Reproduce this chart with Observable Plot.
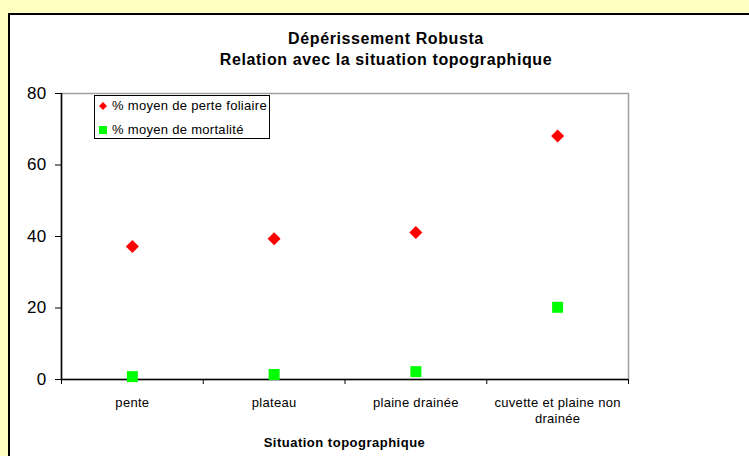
<!DOCTYPE html>
<html>
<head>
<meta charset="utf-8">
<script src="https://cdn.jsdelivr.net/npm/d3@7"></script>
<script src="https://cdn.jsdelivr.net/npm/@observablehq/plot@0.6"></script>
<style>
  html, body { margin: 0; padding: 0; width: 749px; height: 456px; overflow: hidden; background: #FFFFC0; font-family: "Liberation Sans", Arial, sans-serif; color: #000; }
  #box { position: absolute; left: 8px; top: 13px; width: 760px; height: 460px; background: #fff; border: 2px solid #000; box-sizing: border-box; }
  #chart { position: absolute; left: 0; top: 0; }
  .t { position: absolute; white-space: nowrap; text-align: center; }
  #title1, #title2 { left: 0; width: 772px; font-weight: bold; font-size: 16px; line-height: 16px; letter-spacing: 0.6px; }
  #title1 { top: 30.5px; }
  #title2 { top: 51.5px; }
  #xtitle { left: 0; width: 689px; top: 436px; font-weight: bold; font-size: 13px; line-height: 13px; letter-spacing: 0.5px; }
  #legend { position: absolute; left: 94px; top: 95px; width: 176px; height: 44px; box-sizing: border-box; border: 1px solid #000; background: #fff; }
  .lrow { position: absolute; left: 0; height: 16px; font-size: 13px; line-height: 16px; letter-spacing: 0.3px; white-space: nowrap; }
  .lrow svg { position: absolute; left: 3px; top: 3px; }
  .lrow span { position: absolute; left: 17px; top: 0; }
</style>
</head>
<body>
<div id="box"></div>
<div id="chart"></div>
<div id="title1" class="t"></div>
<div id="title2" class="t"></div>
<div id="xtitle" class="t"></div>
<div id="legend"></div>
<script>
const categories = ["pente", "plateau", "plaine drainée", "cuvette et plaine non drainée"];
const perteFoliaire = [37.2, 39.4, 41.1, 68.1];
const mortalite = [0.8, 1.4, 2.2, 20.2];
const yTicks = [0, 20, 40, 60, 80];
const seriesNames = ["% moyen de perte foliaire", "% moyen de mortalité"];
const seriesColors = ["#ff0000", "#00ff00"];
const titleLines = ["Dépérissement Robusta", "Relation avec la situation topographique"];
const xTitle = "Situation topographique";

const idx = categories.map((_, i) => i);

const chart = Plot.plot({
  width: 749,
  height: 456,
  marginLeft: 61,
  marginRight: 121,
  marginTop: 93,
  marginBottom: 77,
  style: { background: "transparent", fontFamily: "'Liberation Sans', Arial, sans-serif", letterSpacing: "0.3px", overflow: "visible" },
  x: { domain: [0, categories.length] },
  y: { domain: [0, 80] },
  marks: [
    Plot.frame({ stroke: "#a0a0a0", strokeWidth: 1.5 }),
    Plot.axisY({ ticks: yTicks, tickSize: 6, tickPadding: 9, fontSize: 17, label: null }),
    Plot.axisX({ ticks: d3.range(categories.length + 1), tickSize: 5, tickFormat: () => "", label: null }),
    Plot.axisX({ ticks: idx.map(i => i + 0.5), tickSize: 0, tickPadding: 15, tickFormat: t => categories[Math.floor(t)], lineWidth: 11.5, lineHeight: 1.3, fontSize: 13, label: null }),
    Plot.ruleX([0], { stroke: "#000", strokeWidth: 1.5 }),
    Plot.ruleY([0], { stroke: "#000", strokeWidth: 1.5 }),
    Plot.dot(perteFoliaire, { x: (d, i) => i + 0.5, y: d => d, symbol: "square", rotate: 45, r: 5.2, fill: seriesColors[0] }),
    Plot.dot(mortalite, { x: (d, i) => i + 0.5, y: d => d, symbol: "square", r: 6.2, fill: seriesColors[1] })
  ]
});
document.getElementById("chart").appendChild(chart);

document.getElementById("title1").textContent = titleLines[0];
document.getElementById("title2").textContent = titleLines[1];
document.getElementById("xtitle").textContent = xTitle;

const legend = document.getElementById("legend");
seriesNames.forEach((name, i) => {
  const row = document.createElement("div");
  row.className = "lrow";
  row.style.top = (i === 0 ? 2 : 26) + "px";
  const shape = i === 0
    ? `<svg width="10" height="10"><path d="M5,1L9,5L5,9L1,5Z" fill="${seriesColors[i]}"/></svg>`
    : `<svg width="10" height="10"><rect x="1" y="1" width="8" height="8" fill="${seriesColors[i]}"/></svg>`;
  row.innerHTML = shape;
  const span = document.createElement("span");
  span.textContent = name;
  row.appendChild(span);
  legend.appendChild(row);
});
</script>
</body>
</html>
